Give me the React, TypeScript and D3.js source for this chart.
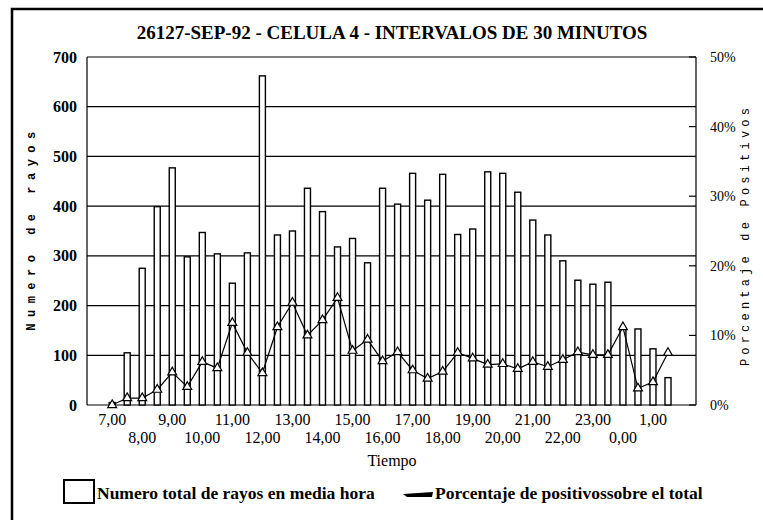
import * as d3 from "d3";
import { useEffect, useRef } from "react";

// half-hour slots starting at 7,00
const rayos = [
  5, 105, 275, 399, 477, 298, 347, 304, 245, 306, 662, 342, 350, 436, 389, 318,
  335, 286, 436, 404, 466, 412, 464, 343, 354, 469, 466, 428, 372, 342, 290, 251,
  243, 247, 154, 153, 113, 55,
];

const positivos = [
  0, 1.0, 1.0, 2.2, 4.7, 2.6, 6.2, 5.3, 11.8, 7.5, 4.6, 11.2, 14.7, 10.0, 12.2,
  15.4, 7.8, 9.4, 6.3, 7.6, 5.0, 3.8, 4.8, 7.5, 6.7, 5.8, 5.9, 5.2, 6.2, 5.5,
  6.5, 7.6, 7.2, 7.2, 11.2, 2.4, 3.3, 7.5,
];

const horas = [
  "7,00", "8,00", "9,00", "10,00", "11,00", "12,00", "13,00", "14,00", "15,00",
  "16,00", "17,00", "18,00", "19,00", "20,00", "21,00", "22,00", "23,00", "0,00",
  "1,00",
];

const leftTicks = [0, 100, 200, 300, 400, 500, 600, 700];
const rightTicks = [0, 10, 20, 30, 40, 50];

const title = "26127-SEP-92 - CELULA 4 - INTERVALOS DE 30 MINUTOS";

const W = 763;
const H = 520;
const serif = "'Liberation Serif', 'Times New Roman', serif";
const mono = "'Liberation Mono', 'DejaVu Sans Mono', monospace";

export default function App() {
  const ref = useRef<SVGSVGElement>(null);

  useEffect(() => {
    if (!ref.current) return;
    const svg = d3.select(ref.current);
    svg.selectAll("*").remove();

    const plot = { left: 87, right: 696, top: 57, bottom: 405 };

    const x = d3
      .scaleBand<number>()
      .domain(d3.range(rayos.length))
      .range([plot.left, plot.right])
      .paddingInner(0.6)
      .paddingOuter(1.57)
      .align(0.47);
    const cx = (i: number) => (x(i) ?? 0) + x.bandwidth() / 2;

    const y = d3.scaleLinear().domain([0, 700]).range([plot.bottom, plot.top]);
    const yp = d3.scaleLinear().domain([0, 50]).range([plot.bottom, plot.top]);

    svg.append("rect").attr("width", W).attr("height", H).attr("fill", "white");

    // outer frame (only top and left survive in the scan)
    svg
      .append("path")
      .attr("d", `M12,${H} V9 H${W}`)
      .attr("fill", "none")
      .attr("stroke", "black")
      .attr("stroke-width", 2.5);

    svg
      .append("text")
      .attr("x", 392)
      .attr("y", 39)
      .attr("text-anchor", "middle")
      .attr("font-family", serif)
      .attr("font-weight", "bold")
      .attr("font-size", 19)
      .text(title);

    // gridlines
    svg
      .append("g")
      .selectAll("line")
      .data(leftTicks)
      .enter()
      .append("line")
      .attr("x1", plot.left)
      .attr("x2", plot.right)
      .attr("y1", (d) => y(d))
      .attr("y2", (d) => y(d))
      .attr("stroke", "black")
      .attr("stroke-width", 1.2);

    svg
      .append("line")
      .attr("x1", plot.left)
      .attr("x2", plot.left)
      .attr("y1", plot.top)
      .attr("y2", plot.bottom)
      .attr("stroke", "black")
      .attr("stroke-width", 1.2);
    svg
      .append("line")
      .attr("x1", plot.right)
      .attr("x2", plot.right)
      .attr("y1", plot.top)
      .attr("y2", plot.bottom)
      .attr("stroke", "black")
      .attr("stroke-width", 1.2);

    // right axis ticks, pointing inward
    svg
      .append("g")
      .selectAll("line")
      .data(rightTicks)
      .enter()
      .append("line")
      .attr("x1", plot.right - 7)
      .attr("x2", plot.right)
      .attr("y1", (d) => yp(d))
      .attr("y2", (d) => yp(d))
      .attr("stroke", "black")
      .attr("stroke-width", 1.2);

    // left labels
    svg
      .append("g")
      .selectAll("text")
      .data(leftTicks)
      .enter()
      .append("text")
      .attr("x", 77)
      .attr("y", (d) => y(d))
      .attr("dy", "0.35em")
      .attr("text-anchor", "end")
      .attr("font-family", serif)
      .attr("font-weight", "bold")
      .attr("font-size", 16)
      .text((d) => d);

    // right labels
    svg
      .append("g")
      .selectAll("text")
      .data(rightTicks)
      .enter()
      .append("text")
      .attr("x", 710)
      .attr("y", (d) => yp(d))
      .attr("dy", "0.35em")
      .attr("font-family", serif)
      .attr("font-size", 14)
      .text((d) => `${d}%`);

    // bars
    svg
      .append("g")
      .selectAll("rect")
      .data(rayos)
      .enter()
      .append("rect")
      .attr("x", (_, i) => x(i) ?? 0)
      .attr("y", (d) => y(d))
      .attr("width", x.bandwidth())
      .attr("height", (d) => plot.bottom - y(d))
      .attr("fill", "white")
      .attr("stroke", "black")
      .attr("stroke-width", 1.4);

    // percentage line
    const line = d3
      .line<number>()
      .x((_, i) => cx(i))
      .y((d) => yp(d));
    svg
      .append("path")
      .datum(positivos)
      .attr("d", line)
      .attr("fill", "none")
      .attr("stroke", "black")
      .attr("stroke-width", 1.2);

    const tri = d3.symbol().type(d3.symbolTriangle).size(34);
    svg
      .append("g")
      .selectAll("path")
      .data(positivos)
      .enter()
      .append("path")
      .attr("d", tri)
      .attr("transform", (d, i) => `translate(${cx(i)},${yp(d)})`)
      .attr("fill", "white")
      .attr("stroke", "black")
      .attr("stroke-width", 1.2);

    // x labels, two staggered rows
    svg
      .append("g")
      .selectAll("text")
      .data(horas)
      .enter()
      .append("text")
      .attr("x", (_, i) => cx(i * 2))
      .attr("y", (_, i) => (i % 2 === 0 ? 425 : 443))
      .attr("text-anchor", "middle")
      .attr("font-family", serif)
      .attr("font-size", 16)
      .text((d) => d);

    svg
      .append("text")
      .attr("x", 392)
      .attr("y", 466)
      .attr("text-anchor", "middle")
      .attr("font-family", serif)
      .attr("font-size", 16)
      .text("Tiempo");

    // axis titles
    svg
      .append("text")
      .attr("transform", `translate(35,228) rotate(-90)`)
      .attr("text-anchor", "middle")
      .attr("font-family", mono)
      .attr("font-weight", "bold")
      .attr("font-size", 12)
      .attr("letter-spacing", 6.5)
      .text("Numero de rayos");

    svg
      .append("text")
      .attr("transform", `translate(749,235) rotate(-90)`)
      .attr("text-anchor", "middle")
      .attr("font-family", mono)
      .attr("font-size", 12)
      .attr("letter-spacing", 4.2)
      .text("Porcentaje de Positivos");

    // legend
    const lg = svg
      .append("g")
      .attr("font-family", serif)
      .attr("font-weight", "bold")
      .attr("font-size", 17.5);
    lg.append("rect")
      .attr("x", 64)
      .attr("y", 480)
      .attr("width", 30)
      .attr("height", 23)
      .attr("fill", "white")
      .attr("stroke", "black")
      .attr("stroke-width", 2);
    lg.append("text").attr("x", 97).attr("y", 499).text("Numero total de rayos en media hora");

    lg.append("path")
      .attr("d", "M403,494 L433,492 L432,497 L407,497 Z")
      .attr("fill", "black");
    lg.append("text").attr("x", 435).attr("y", 499).text("Porcentaje de positivossobre el total");
  }, []);

  return (
    <svg
      ref={ref}
      width={W}
      height={H}
      style={{ position: "absolute", left: 0, top: 0, display: "block" }}
    />
  );
}
